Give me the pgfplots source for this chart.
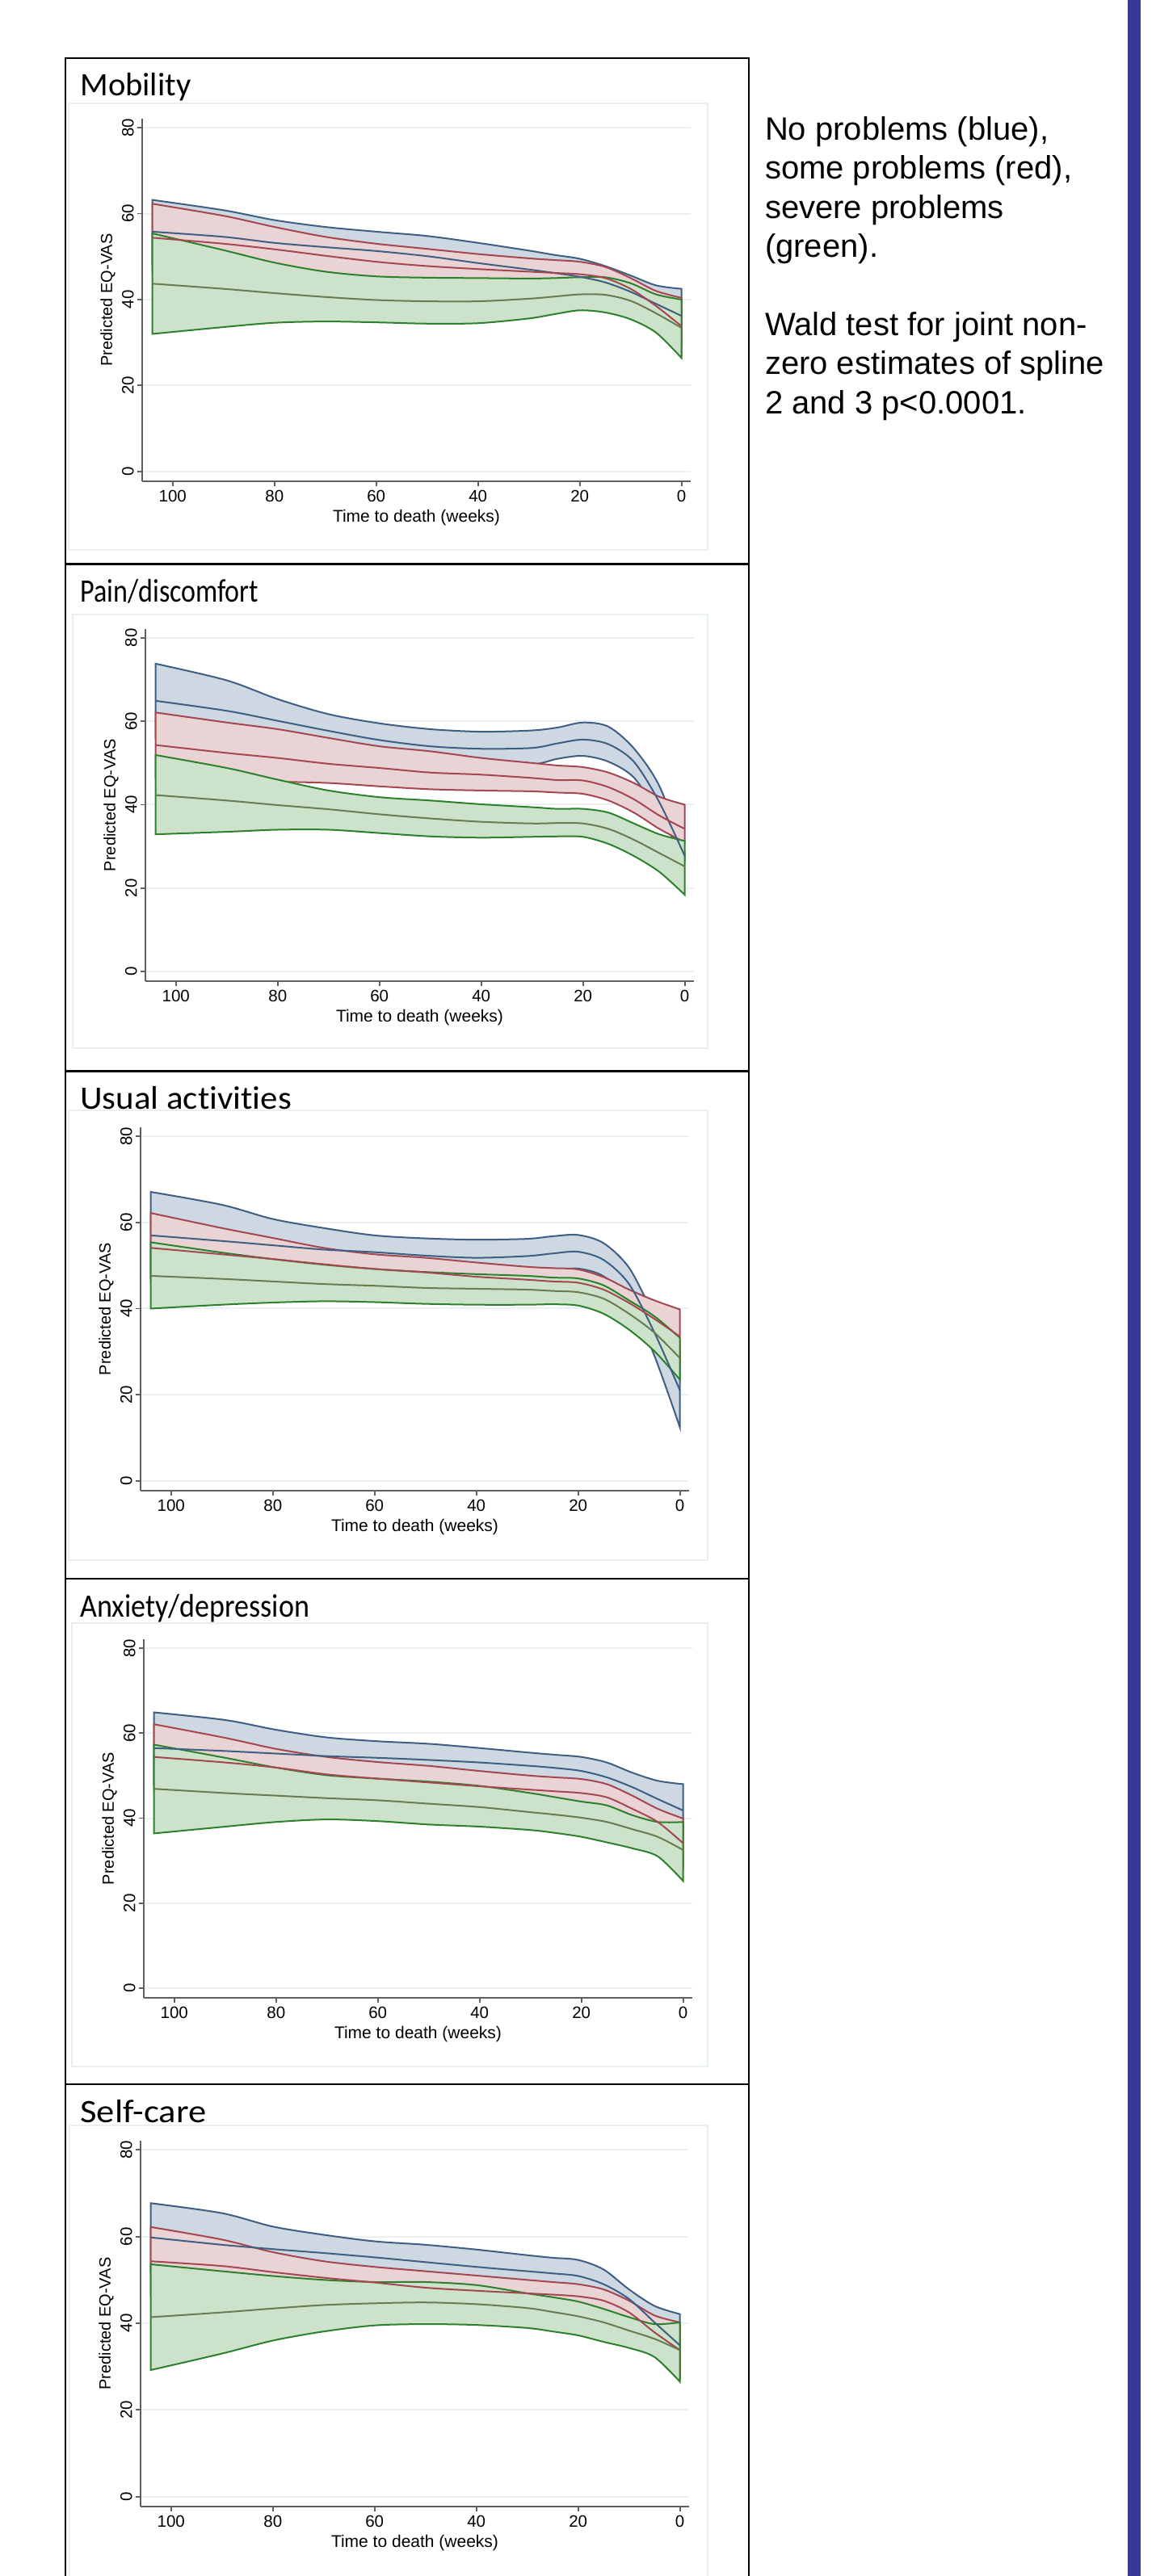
\documentclass[border=0pt]{standalone}
\usepackage{fontspec}
\setmainfont{Liberation Sans}
\newfontfamily\titlefont[Ligatures=NoCommon]{Carlito}
\usepackage{pgfplots}
\usepackage{pgfplotstable}
\pgfplotsset{compat=1.18}
\usepgfplotslibrary{fillbetween}

\definecolor{bfill}{RGB}{205,216,227}
\definecolor{rfill}{RGB}{234,211,213}
\definecolor{gfill}{RGB}{204,226,202}
\definecolor{bline}{RGB}{62,94,130}
\definecolor{rline}{RGB}{163,72,80}
\definecolor{gline}{RGB}{46,128,46}
\definecolor{gest}{RGB}{104,124,80}
\definecolor{axgray}{RGB}{95,95,95}
\definecolor{gridc}{RGB}{234,241,243}
\definecolor{regc}{RGB}{232,239,241}
\definecolor{barblue}{RGB}{56,56,150}

% columns: weeks, blue upper/est/lower, red upper/est/lower, green upper/est/lower
\pgfplotstableread{
w   bu   be   bl   ru   re   rl   gu   ge   gl
104 63.2 55.8 48.4 62.3 54.4 46.5 55.4 43.7 32.0
90  60.8 54.6 48.4 59.5 53.0 46.5 51.5 42.5 33.6
80  58.5 53.2 47.9 56.9 51.7 46.5 48.6 41.5 34.6
70  56.9 52.2 47.5 54.6 50.2 45.8 46.5 40.6 34.9
60  55.8 51.3 46.8 53.0 48.8 44.6 45.4 39.9 34.7
50  54.8 50.1 45.4 51.8 47.8 43.8 45.1 39.6 34.4
40  53.2 48.5 43.8 50.6 47.1 43.6 45.0 39.6 34.5
30  51.4 47.0 42.6 49.6 46.5 43.4 44.9 40.2 35.6
25  50.4 46.2 41.9 49.2 46.2 43.2 45.0 40.7 36.6
20  49.5 45.3 41.1 48.8 45.9 43.0 45.2 41.2 37.5
15  47.8 44.0 40.2 47.6 45.0 42.4 45.2 41.1 37.0
10  45.6 41.8 38.0 45.0 42.5 40.0 43.8 39.7 35.4
5   43.3 39.0 34.7 42.0 38.5 35.0 41.2 36.8 32.3
0   42.5 36.2 30.0 40.4 33.8 27.2 40.0 33.4 26.4
}\Tmob

\pgfplotstableread{
w   bu   be   bl   ru   re   rl   gu   ge   gl
104 73.8 64.9 56.0 62.1 54.3 46.5 51.9 42.3 32.9
90  69.8 62.5 55.2 59.7 52.4 45.6 48.8 41.0 33.5
80  65.3 60.1 54.9 58.1 51.2 45.5 46.0 39.9 34.0
70  61.7 57.7 53.7 56.0 49.8 45.2 43.4 38.9 34.0
60  59.5 55.5 51.5 54.0 48.8 44.4 41.8 37.7 33.2
50  58.1 54.0 50.0 52.8 47.7 43.7 41.0 36.7 32.4
40  57.5 53.4 49.3 51.2 47.2 43.4 40.1 35.9 32.1
30  57.8 53.6 49.6 50.0 46.4 43.2 39.4 35.5 32.3
25  58.5 54.7 51.0 49.4 45.9 42.9 39.0 35.6 32.4
20  59.7 55.6 51.7 49.0 45.8 42.6 39.0 35.5 32.3
15  58.7 54.5 50.3 47.7 44.2 41.0 38.1 34.2 30.6
10  53.5 50.3 46.5 45.2 41.3 38.1 35.5 31.6 27.7
5   44.5 40.6 37.4 41.9 37.4 34.2 32.9 28.4 23.9
0   28.5 27.7 27.0 40.0 34.2 31.0 31.3 25.2 18.4
}\Tpain

\pgfplotstableread{
w   bu   be   bl   ru   re   rl   gu   ge   gl
104 67.1 57.0 47.0 62.2 54.1 46.0 55.4 47.6 40.0
90  64.1 55.7 47.6 58.7 52.6 46.4 53.0 46.9 40.9
80  60.8 54.7 48.6 56.4 51.5 46.5 51.5 46.3 41.4
70  58.7 53.7 48.9 54.1 50.3 46.3 50.2 45.7 41.7
60  57.0 53.1 49.2 52.6 49.2 45.8 49.2 45.3 41.5
50  56.3 52.3 48.4 51.8 48.4 45.0 48.5 44.8 41.1
40  56.0 51.8 47.6 50.7 47.4 44.2 48.0 44.6 40.9
30  56.2 52.2 48.2 49.7 46.7 43.7 47.6 44.4 40.9
25  56.8 52.8 48.8 49.4 46.3 43.3 47.2 44.1 41.0
20  57.1 53.2 49.3 49.1 46.0 43.0 47.0 43.8 40.7
15  55.2 51.3 47.5 47.3 44.4 41.5 45.4 42.3 38.8
10  49.5 45.7 41.9 44.4 41.3 38.2 41.9 38.8 35.1
5   38.5 34.4 29.0 41.9 37.6 33.3 38.2 34.4 30.1
0   30.0 21.0 12.4 39.8 33.5 27.2 33.2 28.5 23.5
}\Tusual

\pgfplotstableread{
w   bu   be   bl   ru   re   rl   gu   ge   gl
104 64.9 56.5 48.1 62.1 54.4 46.7 57.3 46.9 36.4
90  63.1 55.8 48.5 58.9 53.1 47.3 54.2 45.9 38.0
80  60.8 55.2 49.6 56.3 51.9 47.5 51.9 45.3 39.1
70  59.0 54.6 50.2 54.4 50.3 46.2 50.1 44.7 39.7
60  58.1 54.2 50.3 53.2 49.3 45.4 49.3 44.2 39.3
50  57.5 53.7 49.9 52.3 48.4 44.5 48.6 43.4 38.5
40  56.5 53.1 49.7 51.1 47.5 43.9 47.6 42.6 38.0
30  55.4 52.3 49.2 50.0 46.7 43.4 45.9 41.4 37.2
25  54.9 51.8 48.6 49.6 46.3 43.0 44.9 40.8 36.5
20  54.4 51.1 47.8 49.2 45.9 42.6 43.9 40.1 35.6
15  53.1 49.6 46.1 48.0 44.9 41.8 43.0 39.1 34.3
10  50.7 47.3 43.9 45.3 42.2 39.1 40.7 37.4 32.9
5   48.8 44.5 40.2 42.2 39.1 36.0 39.1 35.6 31.0
0   48.0 41.8 35.6 39.9 34.1 28.3 39.1 32.5 25.2
}\Tanx

\pgfplotstableread{
w   bu   be   bl   ru   re   rl   gu   ge   gl
104 67.7 59.8 51.9 62.2 54.3 46.4 53.6 41.4 29.2
90  65.4 58.1 50.8 59.3 53.2 47.1 52.0 42.5 33.0
80  62.3 57.1 51.9 56.4 51.8 47.2 50.9 43.4 36.0
70  60.4 56.2 52.0 54.3 50.5 46.7 50.0 44.2 38.1
60  58.9 55.2 51.5 53.0 49.4 45.8 49.5 44.6 39.5
50  58.1 54.1 50.1 52.0 48.2 44.6 49.5 44.8 39.8
40  57.0 53.0 49.0 51.0 47.5 44.0 48.8 44.4 39.6
30  55.7 52.0 48.3 50.0 46.9 43.8 46.9 43.5 38.9
25  55.1 51.5 47.8 49.5 46.6 43.6 46.0 42.6 38.1
20  54.6 50.9 47.2 49.0 46.2 43.4 45.0 41.6 37.2
15  52.4 49.0 45.6 47.8 45.2 42.6 43.3 40.2 35.7
10  47.8 45.6 43.4 45.2 42.5 39.8 41.4 38.3 34.3
5   44.0 40.2 36.4 41.8 37.9 34.0 39.8 36.4 32.2
0   42.1 34.9 27.7 40.2 33.8 27.4 40.2 33.8 26.5
}\Tself

\pgfplotsset{
  panel/.style={
    scale only axis, width=339.5pt, anchor=south west,
    xmin=-1.8, xmax=106, ymin=-2.3, ymax=82.1, x dir=reverse,
    axis x line*=bottom, axis y line*=left,
    axis line style={draw=axgray, line width=0.9pt, -},
    xtick={0,20,40,60,80,100}, ytick={0,20,40,60,80},
    tick align=outside, major tick length=3pt,
    tick style={draw=axgray, line width=0.9pt},
    ymajorgrids, grid style={draw=gridc, line width=1pt},
    /pgf/number format/assume math mode=true,
    xticklabel style={font=\fontsize{10.25}{12}\selectfont, inner sep=2.5pt},
    yticklabel style={font=\fontsize{10.25}{12}\selectfont, rotate=90, anchor=south, inner sep=2pt},
    xlabel={Time to death (weeks)}, ylabel={Predicted EQ-VAS},
    xlabel style={font=\fontsize{10.5}{12.5}\selectfont, inner sep=2pt},
    ylabel style={font=\fontsize{10}{12}\selectfont, inner sep=2pt},
  },
  band/.style={line width=1pt},
  est/.style={line width=1pt, smooth, mark=none},
}

\newcommand{\panelplots}[1]{%
  \addplot[draw=none, name path=bu, smooth] table[x=w,y=bu]{#1};
  \addplot[draw=none, name path=bl, smooth] table[x=w,y=bl]{#1};
  \addplot[draw=none, name path=ru, smooth] table[x=w,y=ru]{#1};
  \addplot[draw=none, name path=rl, smooth] table[x=w,y=rl]{#1};
  \addplot[draw=none, name path=gu, smooth] table[x=w,y=gu]{#1};
  \addplot[draw=none, name path=gl, smooth] table[x=w,y=gl]{#1};
  \addplot[band, fill=bfill, draw=bline] fill between[of=bu and bl];
  \addplot[band, fill=rfill, draw=rline] fill between[of=ru and rl];
  \addplot[band, fill=gfill, draw=gline] fill between[of=gu and gl];
  \addplot[est, bline] table[x=w,y=be]{#1};
  \addplot[est, rline] table[x=w,y=re]{#1};
  \addplot[est, gest] table[x=w,y=ge]{#1};
}

\newcommand{\ptitle}[3]{\node[anchor=base west, inner sep=0pt, font=\titlefont\fontsize{20.25}{24}\selectfont] at #1 {\scalebox{#2}[1]{#3}};}

\begin{document}
\begin{tikzpicture}
% graph region boxes
\draw[regc, line width=1pt] (42.5pt,-64pt) rectangle (438pt,-340.5pt);
\draw[regc, line width=1pt] (45pt,-380.5pt) rectangle (438pt,-649pt);
\draw[regc, line width=1pt] (42.5pt,-687.5pt) rectangle (438pt,-966pt);
\draw[regc, line width=1pt] (44.5pt,-1005pt) rectangle (438pt,-1279.5pt);
\draw[regc, line width=1pt] (43pt,-1316pt) rectangle (438pt,-1600pt);

% table frame of the left column
\draw[black, line width=1.25pt] (40.5pt,-1600pt) -- (40.5pt,-36pt) -- (463.5pt,-36pt) -- (463.5pt,-1600pt);
\draw[black, line width=1.25pt] (40.5pt,-349.35pt) -- (463.5pt,-349.35pt);
\draw[black, line width=1.25pt] (40.5pt,-663.3pt) -- (463.5pt,-663.3pt);
\draw[black, line width=1.25pt] (40.5pt,-977.5pt) -- (463.5pt,-977.5pt);
\draw[black, line width=1.25pt] (40.5pt,-1290.5pt) -- (463.5pt,-1290.5pt);

% panel titles
\ptitle{(49.5pt,-59.5pt)}{1.0}{Mobility}
\ptitle{(49.5pt,-372.85pt)}{0.84}{Pain/discomfort}
\ptitle{(49.5pt,-686.8pt)}{1.06}{Usual activities}
\ptitle{(49.5pt,-1001pt)}{0.89}{Anxiety/depression}
\ptitle{(49.5pt,-1314pt)}{1.1}{Self-care}

% panels
\begin{axis}[panel, at={(88pt,-298pt)}, height=224.5pt]
\panelplots{\Tmob}
\end{axis}
\begin{axis}[panel, at={(90pt,-607.5pt)}, height=218pt]
\panelplots{\Tpain}
\end{axis}
\begin{axis}[panel, at={(87pt,-923pt)}, height=225pt]
\panelplots{\Tusual}
\end{axis}
\begin{axis}[panel, at={(89pt,-1237pt)}, height=222pt]
\panelplots{\Tanx}
\end{axis}
\begin{axis}[panel, at={(87pt,-1552pt)}, height=226.5pt]
\panelplots{\Tself}
\end{axis}

% right-hand text
\begin{scope}[every node/.style={anchor=base west, inner sep=0pt, font=\fontsize{20}{24}\selectfont}]
\node at (473.35pt,-86.65pt) {No problems (blue),};
\node at (473.35pt,-110.85pt) {some problems (red),};
\node at (473.35pt,-135.05pt) {severe problems};
\node at (473.35pt,-159.25pt) {(green).};
\node at (473.35pt,-207.65pt) {Wald test for joint non-};
\node at (473.35pt,-231.85pt) {zero estimates of spline};
\node at (473.35pt,-256.05pt) {2 and 3 p<0.0001.};
\end{scope}

% blue side bar
\fill[barblue] (698pt,0pt) rectangle (706pt,-1595pt);

\pgfresetboundingbox
\useasboundingbox (0,0) rectangle (715pt,-1595pt);
\end{tikzpicture}
\end{document}
